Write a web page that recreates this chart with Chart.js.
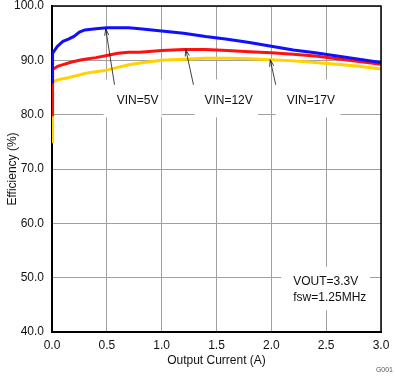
<!DOCTYPE html>
<html>
<head>
<meta charset="utf-8">
<script src="https://cdn.jsdelivr.net/npm/chart.js@4"></script>
<style>
  html, body { margin: 0; padding: 0; background: #fff; }
  canvas { display: block; }
</style>
</head>
<body>
<canvas id="effChart" width="395" height="377"></canvas>
<script>
// data
const currents = [0, 0.005, 0.05, 0.1, 0.15, 0.2, 0.25, 0.3, 0.4, 0.5, 0.6, 0.7, 0.8, 1.0, 1.2, 1.4, 1.6, 1.8, 2.0, 2.2, 2.4, 2.6, 2.8, 3.0];
const effVin5 = [86, 91.3, 92.6, 93.5, 93.9, 94.4, 95.2, 95.6, 95.8, 96.0, 96.0, 96.0, 95.8, 95.4, 95.0, 94.4, 93.9, 93.3, 92.6, 91.9, 91.4, 90.8, 90.2, 89.6];
const effVin12 = [80, 88.3, 88.9, 89.2, 89.5, 89.8, 90.0, 90.2, 90.5, 90.9, 91.3, 91.5, 91.5, 91.8, 92.0, 92.0, 91.8, 91.6, 91.4, 91.1, 90.8, 90.3, 89.8, 89.3];
const effVin17 = [75, 86.0, 86.4, 86.6, 86.8, 87.1, 87.3, 87.6, 87.9, 88.2, 88.7, 89.2, 89.5, 90.0, 90.2, 90.4, 90.4, 90.3, 90.1, 89.9, 89.6, 89.3, 88.9, 88.4];
const seriesNames = ["VIN=5V", "VIN=12V", "VIN=17V"];
const xTicks = [0, 0.5, 1.0, 1.5, 2.0, 2.5, 3.0];
const yTicks = [40, 50, 60, 70, 80, 90, 100];
const noteLines = ["VOUT=3.3V", "fsw=1.25MHz"];

const FONT = "'Liberation Sans', Arial, sans-serif";
const pts = (ys) => currents.map((x, i) => ({ x: x, y: ys[i] }));

// label boxes + arrows, in data units
const labels = [
  { text: seriesNames[0], box: [0.47, 1.0, 79.5, 86.5], at: [0.78, 82.6], from: [0.57, 85.5], to: [0.49, 95.8] },
  { text: seriesNames[1], box: [1.3, 1.88, 79.5, 86.5], at: [1.61, 82.6], from: [1.29, 85.5], to: [1.22, 92.0] },
  { text: seriesNames[2], box: [2.04, 2.63, 79.5, 86.5], at: [2.36, 82.6], from: [2.04, 85.5], to: [1.99, 90.1] },
];
const noteBox = [2.09, 2.9, 44.0, 52.0];

const annotate = {
  id: "annotate",
  beforeDatasetsDraw(chart) {
    const { ctx, scales: { x, y } } = chart;
    ctx.save();
    ctx.fillStyle = "#fff";
    [...labels.map((l) => l.box), noteBox].forEach((b) => {
      const x0 = x.getPixelForValue(b[0]), x1 = x.getPixelForValue(b[1]);
      const y0 = y.getPixelForValue(b[3]), y1 = y.getPixelForValue(b[2]);
      ctx.fillRect(x0, y0, x1 - x0, y1 - y0);
    });
    ctx.restore();
  },
  afterDatasetsDraw(chart) {
    const { ctx, scales: { x, y } } = chart;
    ctx.save();
    ctx.font = "12px " + FONT;
    ctx.fillStyle = "#111";
    ctx.textBaseline = "middle";
    ctx.textAlign = "center";
    ctx.strokeStyle = "#111";
    ctx.lineWidth = 0.8;
    labels.forEach((l) => {
      ctx.fillText(l.text, x.getPixelForValue(l.at[0]), y.getPixelForValue(l.at[1]));
      const fx = x.getPixelForValue(l.from[0]), fy = y.getPixelForValue(l.from[1]);
      const tx = x.getPixelForValue(l.to[0]), ty = y.getPixelForValue(l.to[1]);
      const a = Math.atan2(ty - fy, tx - fx);
      ctx.beginPath();
      ctx.moveTo(fx, fy);
      ctx.lineTo(tx, ty);
      ctx.moveTo(tx - 7 * Math.cos(a - 0.3), ty - 7 * Math.sin(a - 0.3));
      ctx.lineTo(tx, ty);
      ctx.lineTo(tx - 7 * Math.cos(a + 0.3), ty - 7 * Math.sin(a + 0.3));
      ctx.stroke();
    });
    ctx.textAlign = "left";
    const nx = x.getPixelForValue(2.2);
    ctx.fillText(noteLines[0], nx, y.getPixelForValue(49.3));
    ctx.fillText(noteLines[1], nx, y.getPixelForValue(46.4));
    ctx.restore();
  },
  afterDraw(chart) {
    const { ctx, chartArea: a } = chart;
    ctx.save();
    ctx.strokeStyle = "#000";
    ctx.lineWidth = 1.5;
    ctx.beginPath();
    ctx.moveTo(a.left, a.top);
    ctx.lineTo(a.right, a.top);
    ctx.lineTo(a.right, a.bottom);
    ctx.stroke();
    ctx.font = "7px " + FONT;
    ctx.fillStyle = "#555";
    ctx.textAlign = "right";
    ctx.textBaseline = "middle";
    ctx.fillText("G001", 393, 370);
    ctx.restore();
  },
};

new Chart(document.getElementById("effChart"), {
  type: "line",
  data: {
    datasets: [
      { label: seriesNames[0], data: pts(effVin5), borderColor: "#1010ff" },
      { label: seriesNames[1], data: pts(effVin12), borderColor: "#ff1010" },
      { label: seriesNames[2], data: pts(effVin17), borderColor: "#ffd200" },
    ],
  },
  options: {
    responsive: false,
    animation: false,
    devicePixelRatio: 1,
    elements: {
      line: { borderWidth: 3, tension: 0 },
      point: { radius: 0 },
    },
    layout: { padding: { top: 6, right: 14, left: 0, bottom: 0 } },
    plugins: { legend: { display: false }, tooltip: { enabled: false } },
    scales: {
      x: {
        type: "linear",
        min: 0,
        max: 3,
        afterBuildTicks: (s) => { s.ticks = xTicks.map((v) => ({ value: v })); },
        afterFit: (s) => { s.height = 45; s.paddingLeft = 0; s.paddingRight = 0; },
        grid: { color: "#a0a0a0", lineWidth: 1, drawTicks: false },
        border: { color: "#000", width: 2 },
        ticks: {
          color: "#111",
          font: { family: FONT, size: 12 },
          padding: 6,
          maxRotation: 0,
          callback: (v) => v.toFixed(1),
        },
        title: {
          display: true,
          text: "Output Current (A)",
          color: "#111",
          font: { family: FONT, size: 12 },
          padding: { top: 0, bottom: 9 },
        },
      },
      y: {
        min: 40,
        max: 100,
        afterBuildTicks: (s) => { s.ticks = yTicks.map((v) => ({ value: v })); },
        afterFit: (s) => { s.width = 52; s.paddingTop = 0; s.paddingBottom = 0; },
        grid: { color: "#a0a0a0", lineWidth: 1, drawTicks: false },
        border: { color: "#000", width: 2 },
        ticks: {
          color: "#111",
          font: { family: FONT, size: 12 },
          padding: 8,
          callback: (v) => v.toFixed(1),
        },
        title: {
          display: true,
          text: "Efficiency (%)",
          color: "#111",
          font: { family: FONT, size: 12 },
          padding: { top: 5, bottom: 0 },
        },
      },
    },
  },
  plugins: [annotate],
});
</script>
</body>
</html>
